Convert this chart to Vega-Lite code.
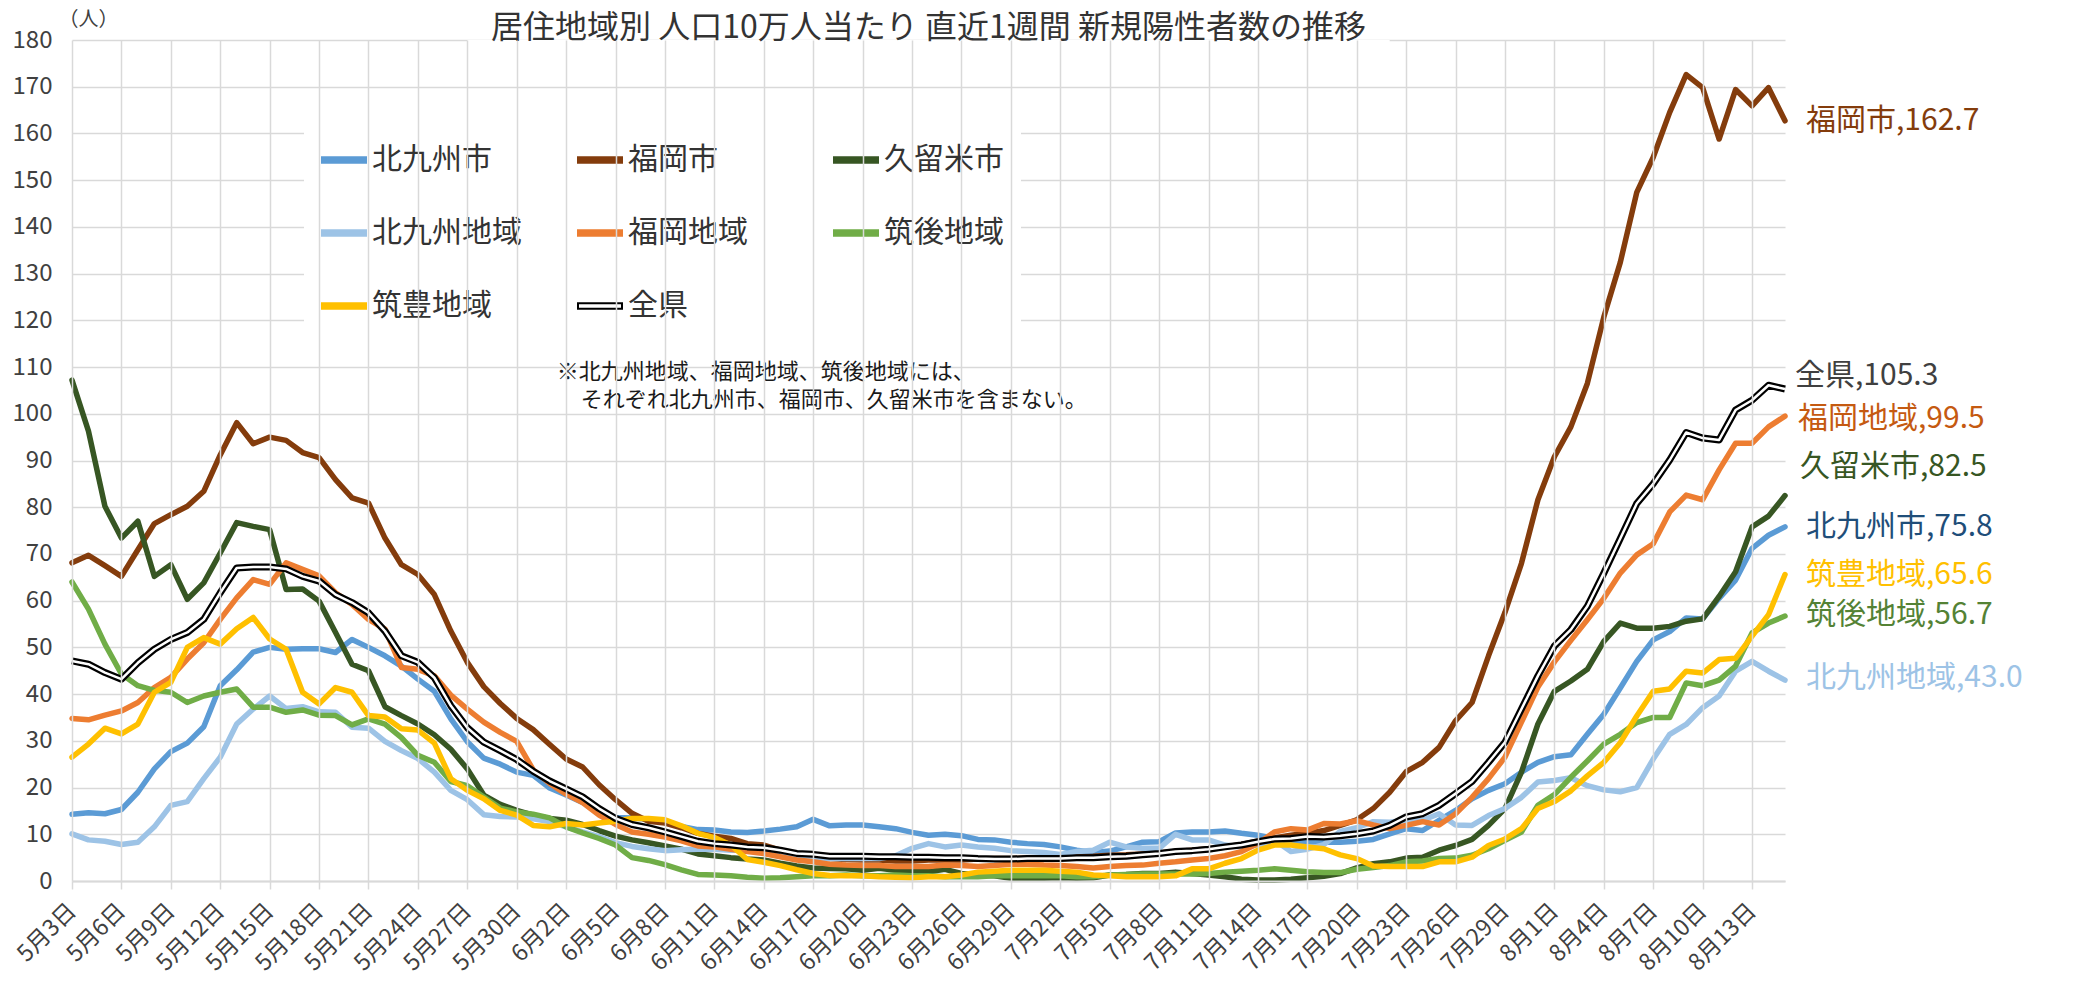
{
"$schema": "https://vega.github.io/schema/vega-lite/v6.json",
"width": 1713,
"height": 841,
"autosize": {"type": "none"},
"padding": {"left": 72, "top": 40, "right": 293, "bottom": 100},
"background": "white",
"config": {
  "font": "Noto Sans CJK JP",
  "view": {"stroke": null},
  "axisY": {"grid": true, "gridColor": "#D9D9D9", "gridWidth": 1.5, "domain": false, "ticks": false, "tickCount": 18, "labelFontSize": 24, "labelColor": "#404040", "labelPadding": 20, "titleAngle": 0, "titleX": 16, "titleY": -21, "titleAlign": "center", "titleBaseline": "middle", "titleFontSize": 20, "titleFontWeight": "normal", "titleColor": "#404040"}
},
"title": {"text": "居住地域別 人口10万人当たり 直近1週間 新規陽性者数の推移", "fontSize": 32, "fontWeight": "normal", "color": "#333333", "anchor": "middle", "offset": -36},
"datasets": {
"main": [
{"日付":"5月3日","北九州市":14.3,"福岡市":68.1,"久留米市":107.2,"北九州地域":10.1,"福岡地域":34.8,"筑後地域":64.0,"筑豊地域":26.5,"全県":47.1},
{"日付":"5月4日","北九州市":14.6,"福岡市":69.7,"久留米市":96.3,"北九州地域":8.8,"福岡地域":34.5,"筑後地域":58.2,"筑豊地域":29.3,"全県":46.4},
{"日付":"5月5日","北九州市":14.4,"福岡市":67.5,"久留米市":80.2,"北九州地域":8.5,"福岡地域":35.5,"筑後地域":50.7,"筑豊地域":32.7,"全県":44.6},
{"日付":"5月6日","北九州市":15.3,"福岡市":65.2,"久留米市":73.4,"北九州地域":7.8,"福岡地域":36.4,"筑後地域":44.3,"筑豊地域":31.5,"全県":43.2},
{"日付":"5月7日","北九州市":19.0,"福岡市":70.9,"久留米市":77.0,"北九州地域":8.3,"福岡地域":38.2,"筑後地域":41.8,"筑豊地域":33.6,"全県":46.7},
{"日付":"5月8日","北九州市":24.0,"福岡市":76.5,"久留米市":65.2,"北九州地域":11.6,"福岡地域":41.4,"筑後地域":40.8,"筑豊地域":40.4,"全県":49.6},
{"日付":"5月9日","北九州市":27.7,"福岡市":78.4,"久留米市":67.7,"北九州地域":16.2,"福岡地域":43.6,"筑後地域":40.4,"筑豊地域":42.5,"全県":51.7},
{"日付":"5月10日","北九州市":29.5,"福岡市":80.2,"久留米市":60.3,"北九州地域":17.0,"福岡地域":47.5,"筑後地域":38.2,"筑豊地域":50.0,"全県":53.2},
{"日付":"5月11日","北九州市":33.0,"福岡市":83.4,"久留米市":63.8,"北九州地域":21.9,"福岡地域":51.0,"筑後地域":39.6,"筑豊地域":52.1,"全県":56.0},
{"日付":"5月12日","北九州市":41.8,"福岡市":91.2,"久留米市":70.2,"北九州地域":26.5,"福岡地域":56.0,"筑後地域":40.4,"筑豊地域":50.7,"全県":61.7},
{"日付":"5月13日","北九州市":45.2,"福岡市":98.1,"久留米市":76.7,"北九州地域":33.6,"福岡地域":60.6,"筑後地域":41.1,"筑豊地域":54.0,"全県":67.0},
{"日付":"5月14日","北九州市":49.0,"福岡市":93.6,"久留米市":75.9,"北九州地域":36.8,"福岡地域":64.5,"筑後地域":37.2,"筑豊地域":56.4,"全県":67.2},
{"日付":"5月15日","北九州市":50.0,"福岡市":95.0,"久留米市":75.2,"北九州地域":39.6,"福岡地域":63.5,"筑後地域":37.2,"筑豊地域":51.8,"全県":67.2},
{"日付":"5月16日","北九州市":49.6,"福岡市":94.3,"久留米市":62.4,"北九州地域":36.9,"福岡地域":68.1,"筑後地域":36.1,"筑豊地域":49.6,"全県":66.8},
{"日付":"5月17日","北九州市":49.7,"福岡市":91.7,"久留米市":62.5,"北九州地域":37.3,"福岡地域":66.7,"筑後地域":36.6,"筑豊地域":40.4,"全県":65.2},
{"日付":"5月18日","北九州市":49.7,"福岡市":90.6,"久留米市":59.9,"北九州地域":36.2,"福岡地域":65.3,"筑後地域":35.5,"筑豊地域":37.9,"全県":64.2},
{"日付":"5月19日","北九州市":48.9,"福岡市":85.9,"久留米市":53.2,"北九州地域":36.1,"福岡地域":61.7,"筑後地域":35.4,"筑豊地域":41.4,"全県":61.3},
{"日付":"5月20日","北九州市":51.7,"福岡市":82.0,"久留米市":46.4,"北九州地域":32.9,"福岡地域":59.2,"筑後地域":33.4,"筑豊地域":40.4,"全県":59.6},
{"日付":"5月21日","北九州市":50.0,"福岡市":80.9,"久留米市":45.0,"北九州地域":32.7,"福岡地域":56.0,"筑後地域":34.7,"筑豊地域":35.4,"全県":57.4},
{"日付":"5月22日","北九州市":48.2,"福岡市":73.4,"久留米市":37.3,"北九州地域":29.9,"福岡地域":53.9,"筑後地域":33.6,"筑豊地域":35.1,"全県":53.5},
{"日付":"5月23日","北九州市":46.0,"福岡市":67.7,"久留米市":35.4,"北九州地域":27.9,"福岡地域":45.7,"筑後地域":30.7,"筑豊地域":32.6,"全県":48.2},
{"日付":"5月24日","北九州市":43.2,"福岡市":65.6,"久留米市":33.6,"北九州地域":26.2,"福岡地域":45.3,"筑後地域":26.9,"筑豊地域":32.3,"全県":46.8},
{"日付":"5月25日","北九州市":40.6,"福岡市":61.3,"久留米市":31.3,"北九州地域":23.3,"福岡地域":43.9,"筑後地域":25.4,"筑豊地域":29.5,"全県":43.5},
{"日付":"5月26日","北九州市":34.7,"福岡市":53.5,"久留米市":28.2,"北九州地域":19.4,"福岡地域":39.8,"筑後地域":21.3,"筑豊地域":21.9,"全県":37.5},
{"日付":"5月27日","北九州市":29.8,"福岡市":46.8,"久留米市":24.0,"北九州地域":17.4,"福岡地域":36.8,"筑後地域":20.4,"筑豊地域":19.4,"全県":32.8},
{"日付":"5月28日","北九州市":26.3,"福岡市":41.6,"久留米市":18.4,"北九州地域":14.2,"福岡地域":34.0,"筑後地域":18.0,"筑豊地域":17.6,"全県":29.7},
{"日付":"5月29日","北九州市":25.0,"福岡市":38.0,"久留米市":16.4,"北九州地域":13.8,"福岡地域":31.8,"筑後地域":15.6,"筑豊地域":15.1,"全県":27.9},
{"日付":"5月30日","北九州市":23.3,"福岡市":34.8,"久留米市":15.1,"北九州地域":13.7,"福岡地域":29.9,"筑後地域":14.8,"筑豊地域":14.1,"全県":26.0},
{"日付":"5月31日","北九州市":22.6,"福岡市":32.4,"久留米市":14.1,"北九州地域":13.3,"福岡地域":23.8,"筑後地域":14.3,"筑豊地域":11.9,"全県":23.5},
{"日付":"6月1日","北九州市":19.9,"福岡市":29.2,"久留米市":13.4,"北九州地域":12.7,"福岡地域":20.9,"筑後地域":13.5,"筑豊地域":11.6,"全県":21.4},
{"日付":"6月2日","北九州市":18.4,"福岡市":26.1,"久留米市":13.0,"北九州地域":11.6,"福岡地域":18.6,"筑後地域":11.6,"筑豊地域":12.3,"全県":19.7},
{"日付":"6月3日","北九州市":16.8,"福岡市":24.4,"久留米市":12.1,"北九州地域":10.5,"福岡地域":16.8,"筑後地域":10.3,"筑豊地域":12.0,"全県":18.0},
{"日付":"6月4日","北九州市":15.2,"福岡市":20.6,"久留米市":10.8,"北九州地域":9.5,"福岡地域":14.1,"筑後地域":9.1,"筑豊地域":12.4,"全県":15.5},
{"日付":"6月5日","北九州市":13.6,"福岡市":17.4,"久留米市":9.6,"北九州地域":8.2,"福岡地域":12.1,"筑後地域":7.7,"筑豊地域":12.8,"全県":13.4},
{"日付":"6月6日","北九州市":13.5,"福岡市":14.5,"久留米市":8.8,"北九州地域":7.4,"福岡地域":10.5,"筑後地域":5.0,"筑豊地域":13.4,"全県":12.1},
{"日付":"6月7日","北九州市":13.2,"福岡市":12.8,"久留米市":8.2,"北九州地域":6.9,"福岡地域":10.0,"筑後地域":4.4,"筑豊地域":13.4,"全県":11.4},
{"日付":"6月8日","北九州市":12.5,"福岡市":12.4,"久留米市":7.5,"北九州地域":6.5,"福岡地域":9.4,"筑後地域":3.5,"筑豊地域":13.1,"全県":10.5},
{"日付":"6月9日","北九州市":11.7,"福岡市":11.4,"久留米市":6.8,"北九州地域":6.7,"福岡地域":8.6,"筑後地域":2.4,"筑豊地域":11.8,"全県":9.5},
{"日付":"6月10日","北九州市":11.0,"福岡市":10.2,"久留米市":5.8,"北九州地域":6.8,"福岡地域":7.5,"筑後地域":1.4,"筑豊地域":10.2,"全県":8.5},
{"日付":"6月11日","北九州市":10.9,"福岡市":9.6,"久留米市":5.4,"北九州地域":6.8,"福岡地域":7.3,"筑後地域":1.3,"筑豊地域":9.3,"全県":8.0},
{"日付":"6月12日","北九州市":10.5,"福岡市":9.1,"久留米市":5.0,"北九州地域":6.6,"福岡地域":6.8,"筑後地域":1.1,"筑豊地域":7.7,"全県":7.7},
{"日付":"6月13日","北九州市":10.4,"福岡市":8.0,"久留米市":4.7,"北九州地域":6.6,"福岡地域":6.3,"筑後地域":0.8,"筑豊地域":4.6,"全県":7.3},
{"日付":"6月14日","北九州市":10.7,"福岡市":7.7,"久留米市":4.5,"北九州地域":6.4,"福岡地域":5.9,"筑後地域":0.6,"筑豊地域":4.0,"全県":7.1},
{"日付":"6月15日","北九州市":11.1,"福岡市":6.6,"久留米市":3.8,"北九州地域":5.9,"福岡地域":5.2,"筑後地域":0.7,"筑豊地域":3.3,"全県":6.6},
{"日付":"6月16日","北九州市":11.6,"福岡市":5.9,"久留米市":3.2,"北九州地域":5.4,"福岡地域":4.5,"筑後地域":0.9,"筑豊地域":2.4,"全県":5.9},
{"日付":"6月17日","北九州市":13.2,"福岡市":5.2,"久留米市":2.8,"北九州地域":5.0,"福岡地域":4.1,"筑後地域":1.1,"筑豊地域":1.6,"全県":5.7},
{"日付":"6月18日","北九州市":11.8,"福岡市":4.8,"久留米市":2.7,"北九州地域":4.8,"福岡地域":3.6,"筑後地域":1.1,"筑豊地域":1.2,"全県":5.3},
{"日付":"6月19日","北九州市":12.0,"福岡市":4.6,"久留米市":2.6,"北九州地域":4.8,"福岡地域":3.4,"筑後地域":1.3,"筑豊地域":1.1,"全県":5.3},
{"日付":"6月20日","北九州市":12.0,"福岡市":4.5,"久留米市":2.3,"北九州地域":4.8,"福岡地域":3.3,"筑後地域":1.1,"筑豊地域":1.1,"全県":5.3},
{"日付":"6月21日","北九州市":11.6,"福岡市":4.5,"久留米市":2.7,"北九州地域":4.8,"福岡地域":3.3,"筑後地域":1.1,"筑豊地域":0.9,"全県":5.2},
{"日付":"6月22日","北九州市":11.2,"福岡市":4.3,"久留米市":2.3,"北九州地域":5.4,"福岡地域":3.1,"筑後地域":1.3,"筑豊地域":0.8,"全県":5.2},
{"日付":"6月23日","北九州市":10.4,"福岡市":4.3,"久留米市":2.1,"北九州地域":7.0,"福岡地域":3.1,"筑後地域":1.1,"筑豊地域":0.7,"全県":5.1},
{"日付":"6月24日","北九州市":9.8,"福岡市":4.5,"久留米市":2.0,"北九州地域":8.0,"福岡地域":3.1,"筑後地域":1.1,"筑豊地域":0.9,"全県":5.1},
{"日付":"6月25日","北九州市":10.0,"福岡市":4.5,"久留米市":2.5,"北九州地域":7.3,"福岡地域":3.4,"筑後地域":0.9,"筑豊地域":0.9,"全県":5.0},
{"日付":"6月26日","北九州市":9.7,"福岡市":4.5,"久留米市":1.6,"北九州地域":7.7,"福岡地域":3.3,"筑後地域":0.9,"筑豊地域":1.3,"全県":5.0},
{"日付":"6月27日","北九州市":8.9,"福岡市":4.7,"久留米市":1.3,"北九州地域":7.3,"福岡地域":3.1,"筑後地域":0.9,"筑豊地域":1.9,"全県":4.8},
{"日付":"6月28日","北九州市":8.8,"福岡市":4.8,"久留米市":1.1,"北九州地域":7.0,"福岡地域":3.3,"筑後地域":1.1,"筑豊地域":2.1,"全県":4.7},
{"日付":"6月29日","北九州市":8.3,"福岡市":4.8,"久留米市":0.6,"北九州地域":6.5,"福岡地域":3.6,"筑後地域":1.1,"筑豊地域":2.3,"全県":4.7},
{"日付":"6月30日","北九州市":8.0,"福岡市":4.9,"久留米市":0.4,"北九州地域":6.3,"福岡地域":3.6,"筑後地域":1.1,"筑豊地域":2.3,"全県":4.8},
{"日付":"7月1日","北九州市":7.8,"福岡市":4.9,"久留米市":0.6,"北九州地域":6.1,"福岡地域":3.4,"筑後地域":1.1,"筑豊地域":2.3,"全県":4.8},
{"日付":"7月2日","北九州市":7.3,"福岡市":5.0,"久留米市":0.7,"北九州地域":5.7,"福岡地域":3.3,"筑後地域":1.1,"筑豊地域":2.1,"全県":4.8},
{"日付":"7月3日","北九州市":6.6,"福岡市":5.2,"久留米市":0.6,"北九州地域":6.3,"福岡地域":3.1,"筑後地域":0.9,"筑豊地域":1.9,"全県":5.0},
{"日付":"7月4日","北九州市":6.1,"福岡市":5.3,"久留米市":0.7,"北九州地域":6.6,"福岡地域":2.8,"筑後地域":0.9,"筑豊地域":1.3,"全県":5.0},
{"日付":"7月5日","北九州市":6.4,"福岡市":5.5,"久留米市":1.3,"北九州地域":8.3,"福岡地域":3.1,"筑後地域":1.3,"筑豊地域":1.1,"全県":5.2},
{"日付":"7月6日","北九州市":7.3,"福岡市":5.6,"久留米市":1.4,"北九州地域":7.3,"福岡地域":3.3,"筑後地域":1.4,"筑豊地域":0.9,"全県":5.3},
{"日付":"7月7日","北九州市":8.3,"福岡市":5.8,"久留米市":1.6,"北九州地域":7.0,"福岡地域":3.4,"筑後地域":1.5,"筑豊地域":0.9,"全県":5.6},
{"日付":"7月8日","北九州市":8.4,"福岡市":6.0,"久留米市":1.6,"北九州地域":7.0,"福岡地域":3.8,"筑後地域":1.5,"筑豊地域":0.9,"全県":5.9},
{"日付":"7月9日","北九州市":10.3,"福岡市":6.3,"久留米市":1.9,"北九州地域":10.0,"福岡地域":4.1,"筑後地域":1.5,"筑豊地域":1.1,"全県":6.3},
{"日付":"7月10日","北九州市":10.5,"福岡市":6.6,"久留米市":1.6,"北九州地域":8.8,"福岡地域":4.5,"筑後地域":1.5,"筑豊地域":2.6,"全県":6.5},
{"日付":"7月11日","北九州市":10.5,"福岡市":6.9,"久留米市":1.3,"北九州地域":8.8,"福岡地域":4.8,"筑後地域":1.6,"筑豊地域":2.6,"全県":6.8},
{"日付":"7月12日","北九州市":10.7,"福岡市":7.3,"久留米市":0.9,"北九州地域":7.7,"福岡地域":5.4,"筑後地域":1.9,"筑豊地域":3.8,"全県":7.3},
{"日付":"7月13日","北九州市":10.2,"福岡市":7.8,"久留米市":0.4,"北九州地域":7.3,"福岡地域":6.3,"筑後地域":2.1,"筑豊地域":4.8,"全県":7.7},
{"日付":"7月14日","北九州市":9.8,"福岡市":8.5,"久留米市":0.2,"北九州地域":7.7,"福岡地域":8.0,"筑後地域":2.3,"筑豊地域":6.6,"全県":8.4},
{"日付":"7月15日","北九州市":9.1,"福岡市":9.2,"久留米市":0.2,"北九州地域":8.8,"福岡地域":10.5,"筑後地域":2.6,"筑豊地域":7.7,"全県":9.0},
{"日付":"7月16日","北九州市":8.4,"福岡市":9.8,"久留米市":0.4,"北九州地域":6.3,"福岡地域":11.2,"筑後地域":2.3,"筑豊地域":7.7,"全県":9.1},
{"日付":"7月17日","北九州市":8.4,"福岡市":10.2,"久留米市":0.7,"北九州地域":6.8,"福岡地域":10.9,"筑後地域":2.0,"筑豊地域":7.3,"全県":9.5},
{"日付":"7月18日","北九州市":8.3,"福岡市":10.8,"久留米市":1.0,"北九州地域":7.8,"福岡地域":12.3,"筑後地域":1.8,"筑豊地域":6.9,"全県":9.4},
{"日付":"7月19日","北九州市":8.3,"福岡市":11.9,"久留米市":1.6,"北九州地域":10.6,"福岡地域":12.2,"筑後地域":1.8,"筑豊地域":5.6,"全県":9.7},
{"日付":"7月20日","北九州市":8.5,"福岡市":13.1,"久留米市":2.8,"北九州地域":11.4,"福岡地域":12.9,"筑後地域":2.5,"筑豊地域":4.8,"全県":10.1},
{"日付":"7月21日","北九州市":8.9,"福岡市":15.5,"久留米市":3.7,"北九州地域":12.7,"福岡地域":12.0,"筑後地域":2.9,"筑豊地域":3.2,"全県":10.7},
{"日付":"7月22日","北九州市":10.1,"福岡市":19.0,"久留米市":4.1,"北九州地域":12.6,"福岡地域":11.2,"筑後地域":3.3,"筑豊地域":3.1,"全県":11.9},
{"日付":"7月23日","北九州市":11.2,"福岡市":23.4,"久留米市":4.9,"北九州地域":13.0,"福岡地域":11.9,"筑後地域":4.1,"筑豊地域":3.1,"全県":13.7},
{"日付":"7月24日","北九州市":10.8,"福岡市":25.4,"久留米市":5.1,"北九州地域":13.0,"福岡地域":12.7,"筑後地域":4.3,"筑豊地域":3.1,"全県":14.4},
{"日付":"7月25日","北九州市":13.0,"福岡市":28.6,"久留米市":6.6,"北九州地域":14.4,"福岡地域":12.0,"筑後地域":4.8,"筑豊地域":4.1,"全県":16.2},
{"日付":"7月26日","北九州市":15.1,"福岡市":34.3,"久留米市":7.6,"北九州地域":12.0,"福岡地域":14.4,"筑後地域":4.9,"筑豊地域":4.1,"全県":18.7},
{"日付":"7月27日","北九州市":17.6,"福岡市":38.2,"久留米市":8.9,"北九州地域":11.9,"福岡地域":17.9,"筑後地域":5.5,"筑豊地域":5.1,"全県":21.3},
{"日付":"7月28日","北九州市":19.4,"福岡市":48.2,"久留米市":11.9,"北九州地域":14.0,"福岡地域":21.9,"筑後地域":6.9,"筑豊地域":7.6,"全県":25.4},
{"日付":"7月29日","北九州市":20.8,"福岡市":57.5,"久留米市":15.5,"北九州地域":15.5,"福岡地域":26.5,"筑後地域":8.7,"筑豊地域":9.0,"全県":29.7},
{"日付":"7月30日","北九州市":23.3,"福岡市":68.0,"久留米市":23.3,"北九州地域":17.9,"福岡地域":34.0,"筑後地域":10.5,"筑豊地域":11.2,"全県":36.8},
{"日付":"7月31日","北九州市":25.4,"福岡市":81.6,"久留米市":33.6,"北九州地域":21.2,"福岡地域":41.5,"筑後地域":16.2,"筑豊地域":15.5,"全県":43.9},
{"日付":"8月1日","北九州市":26.6,"福岡市":90.8,"久留米市":40.6,"北九州地域":21.5,"福岡地域":46.9,"筑後地域":18.5,"筑豊地域":17.0,"全県":50.3},
{"日付":"8月2日","北九州市":27.0,"福岡市":97.2,"久留米市":42.8,"北九州地域":22.1,"福岡地域":51.5,"筑後地域":22.2,"筑豊地域":19.3,"全県":53.8},
{"日付":"8月3日","北九州市":31.4,"福岡市":106.5,"久留米市":45.3,"北九州地域":20.4,"福岡地域":55.9,"筑後地域":25.7,"筑豊地域":22.5,"全県":58.8},
{"日付":"8月4日","北九州市":35.7,"福岡市":120.7,"久留米市":51.3,"北九州地域":19.5,"福岡地域":60.5,"筑後地域":29.3,"筑豊地域":25.4,"全県":65.9},
{"日付":"8月5日","北九州市":41.3,"福岡市":132.4,"久留米市":55.2,"北九州地域":19.1,"福岡地域":65.9,"筑後地域":31.4,"筑豊地域":29.6,"全県":73.3},
{"日付":"8月6日","北九州市":47.0,"福岡市":147.4,"久留米市":54.1,"北九州地域":20.0,"福岡地域":69.8,"筑後地域":33.9,"筑豊地域":35.3,"全県":80.8},
{"日付":"8月7日","北九州市":51.6,"福岡市":154.9,"久留米市":54.1,"北九州地域":26.1,"福岡地域":72.2,"筑後地域":35.0,"筑豊地域":40.6,"全県":85.0},
{"日付":"8月8日","北九州市":53.4,"福岡市":164.5,"久留米市":54.5,"北九州地域":31.4,"福岡地域":79.0,"筑後地域":35.0,"筑豊地域":41.1,"全県":90.1},
{"日付":"8月9日","北九州市":56.3,"福岡市":172.6,"久留米市":55.6,"北九州地域":33.5,"福岡地域":82.6,"筑後地域":42.4,"筑豊地域":44.9,"全県":96.0},
{"日付":"8月10日","北九州市":56.1,"福岡市":169.8,"久留米市":56.1,"北九州地域":37.1,"福岡地域":81.6,"筑後地域":41.8,"筑豊地域":44.5,"全県":94.8},
{"日付":"8月11日","北九州市":60.5,"福岡市":158.8,"久留米市":60.9,"北九州地域":39.6,"福岡地域":88.0,"筑後地域":43.0,"筑豊地域":47.4,"全県":94.4},
{"日付":"8月12日","北九州市":64.4,"福岡市":169.4,"久留米市":66.2,"北九州地域":44.9,"福岡地域":93.7,"筑後地域":46.0,"筑豊地域":47.7,"全県":100.8},
{"日付":"8月13日","北九州市":71.2,"福岡市":165.9,"久留米市":75.8,"北九州地域":47.0,"福岡地域":93.7,"筑後地域":53.1,"筑豊地域":52.4,"全県":102.9},
{"日付":"8月14日","北九州市":74.0,"福岡市":169.8,"久留米市":78.1,"北九州地域":44.9,"福岡地域":97.2,"筑後地域":55.2,"筑豊地域":57.0,"全県":106.1},
{"日付":"8月15日","北九州市":75.8,"福岡市":162.7,"久留米市":82.5,"北九州地域":43.0,"福岡地域":99.5,"筑後地域":56.7,"筑豊地域":65.6,"全県":105.3}
],
"labels": [
{"系列":"北九州市","ラベル":"北九州市,75.8","値":75.8},
{"系列":"福岡市","ラベル":"福岡市,162.7","値":162.7},
{"系列":"久留米市","ラベル":"久留米市,82.5","値":82.5},
{"系列":"北九州地域","ラベル":"北九州地域,43.0","値":43.0},
{"系列":"福岡地域","ラベル":"福岡地域,99.5","値":99.5},
{"系列":"筑後地域","ラベル":"筑後地域,56.7","値":56.7},
{"系列":"筑豊地域","ラベル":"筑豊地域,65.6","値":65.6},
{"系列":"全県","ラベル":"全県,105.3","値":105.3}
],
"notes": [
{"行": "1", "注記": "※北九州地域、福岡地域、筑後地域には、"},
{"行": "2", "注記": "それぞれ北九州市、福岡市、久留米市を含まない。"}
]
},
"encoding": {
  "x": {"field": "日付", "type": "ordinal", "sort": null,
    "scale": {"type": "point", "padding": 0, "domain": ["5月3日","5月4日","5月5日","5月6日","5月7日","5月8日","5月9日","5月10日","5月11日","5月12日","5月13日","5月14日","5月15日","5月16日","5月17日","5月18日","5月19日","5月20日","5月21日","5月22日","5月23日","5月24日","5月25日","5月26日","5月27日","5月28日","5月29日","5月30日","5月31日","6月1日","6月2日","6月3日","6月4日","6月5日","6月6日","6月7日","6月8日","6月9日","6月10日","6月11日","6月12日","6月13日","6月14日","6月15日","6月16日","6月17日","6月18日","6月19日","6月20日","6月21日","6月22日","6月23日","6月24日","6月25日","6月26日","6月27日","6月28日","6月29日","6月30日","7月1日","7月2日","7月3日","7月4日","7月5日","7月6日","7月7日","7月8日","7月9日","7月10日","7月11日","7月12日","7月13日","7月14日","7月15日","7月16日","7月17日","7月18日","7月19日","7月20日","7月21日","7月22日","7月23日","7月24日","7月25日","7月26日","7月27日","7月28日","7月29日","7月30日","7月31日","8月1日","8月2日","8月3日","8月4日","8月5日","8月6日","8月7日","8月8日","8月9日","8月10日","8月11日","8月12日","8月13日","8月14日","8月15日"]},
    "axis": {"title": null, "values": ["5月3日","5月6日","5月9日","5月12日","5月15日","5月18日","5月21日","5月24日","5月27日","5月30日","6月2日","6月5日","6月8日","6月11日","6月14日","6月17日","6月20日","6月23日","6月26日","6月29日","7月2日","7月5日","7月8日","7月11日","7月14日","7月17日","7月20日","7月23日","7月26日","7月29日","8月1日","8月4日","8月7日","8月10日","8月13日"],
      "labelAngle": -45, "labelAlign": "right", "labelBaseline": "middle", "labelFontSize": 23, "labelColor": "#404040", "labelPadding": 18, "labelOverlap": false,
      "grid": true, "gridColor": "#D9D9D9", "gridWidth": 1.5, "domainColor": "#D9D9D9", "domainWidth": 2, "tickColor": "#D9D9D9", "tickSize": 8, "tickWidth": 1.5}
  }
},
"layer": [
  {
    "data": {"values": [{"枠": "タイトル"}]},
    "mark": {"type": "rect", "color": "#FFFFFF"},
    "encoding": {"x": {"datum": "5月27日"}, "x2": {"datum": "7月22日"}, "y": {"datum": 180, "type": "quantitative", "title": "（人）"}, "y2": {"datum": 175}}
  },
  {
    "data": {"name": "main"},
    "transform": [{"fold": ["北九州市","福岡市","久留米市","北九州地域","福岡地域","筑後地域","筑豊地域"], "as": ["系列","値"]}],
    "mark": {"type": "line", "strokeWidth": 5.5, "strokeJoin": "round", "strokeCap": "round"},
    "encoding": {
      "y": {"field": "値", "type": "quantitative", "title": "（人）", "scale": {"domain": [0, 180], "nice": false}},
      "color": {"field": "系列", "type": "nominal",
        "scale": {"domain": ["北九州市","福岡市","久留米市","北九州地域","福岡地域","筑後地域","筑豊地域","全県"], "range": ["#5B9BD5","#843C0C","#375623","#9DC3E6","#ED7D31","#70AD47","#FFC000","#000000"]},
        "legend": {"orient": "none", "legendX": 232, "legendY": 80, "direction": "horizontal", "columns": 3, "title": null, "fillColor": "white", "padding": 17, "gridAlign": "all", "columnPadding": 52, "rowPadding": 35,
          "labelFontSize": 30, "labelColor": "#333333", "labelOffset": 5, "labelLimit": 400,
          "symbolSize": 1936, "symbolType": "M-1,-0.12H1V0.12H-1Z", "symbolStrokeWidth": 2,
          "encode": {"symbols": {"update": {
            "fill": {"signal": "datum.value === '全県' ? 'white' : scale('color', datum.value)"},
            "stroke": {"signal": "datum.value === '全県' ? 'black' : scale('color', datum.value)"},
            "strokeWidth": {"value": 2}}}}}
      }
    }
  },
  {
    "data": {"name": "main"},
    "mark": {"type": "line", "strokeWidth": 7, "color": "#000000", "strokeJoin": "round"},
    "encoding": {"y": {"field": "全県", "type": "quantitative", "title": "（人）", "scale": {"domain": [0, 180], "nice": false}}}
  },
  {
    "data": {"name": "main"},
    "mark": {"type": "line", "strokeWidth": 2.5, "color": "#FFFFFF", "strokeJoin": "round"},
    "encoding": {"y": {"field": "全県", "type": "quantitative", "title": "（人）", "scale": {"domain": [0, 180], "nice": false}}}
  },
  {
    "data": {"name": "labels"},
    "transform": [{"filter": "datum['系列'] === '福岡市'"}],
    "mark": {"type": "text", "align": "left", "baseline": "middle", "fontSize": 30, "color": "#843C0C", "dx": 21},
    "encoding": {"x": {"datum": "8月15日"}, "y": {"field": "値", "type": "quantitative", "title": "（人）"}, "text": {"field": "ラベル"}}
  },
  {
    "data": {"name": "labels"},
    "transform": [{"filter": "datum['系列'] === '全県'"}],
    "mark": {"type": "text", "align": "left", "baseline": "middle", "fontSize": 30, "color": "#404040", "dx": 10, "dy": -13},
    "encoding": {"x": {"datum": "8月15日"}, "y": {"field": "値", "type": "quantitative", "title": "（人）"}, "text": {"field": "ラベル"}}
  },
  {
    "data": {"name": "labels"},
    "transform": [{"filter": "datum['系列'] === '福岡地域'"}],
    "mark": {"type": "text", "align": "left", "baseline": "middle", "fontSize": 30, "color": "#C55A11", "dx": 13, "dy": 3},
    "encoding": {"x": {"datum": "8月15日"}, "y": {"field": "値", "type": "quantitative", "title": "（人）"}, "text": {"field": "ラベル"}}
  },
  {
    "data": {"name": "labels"},
    "transform": [{"filter": "datum['系列'] === '久留米市'"}],
    "mark": {"type": "text", "align": "left", "baseline": "middle", "fontSize": 30, "color": "#375623", "dx": 15, "dy": -29},
    "encoding": {"x": {"datum": "8月15日"}, "y": {"field": "値", "type": "quantitative", "title": "（人）"}, "text": {"field": "ラベル"}}
  },
  {
    "data": {"name": "labels"},
    "transform": [{"filter": "datum['系列'] === '北九州市'"}],
    "mark": {"type": "text", "align": "left", "baseline": "middle", "fontSize": 30, "color": "#1F4E79", "dx": 21},
    "encoding": {"x": {"datum": "8月15日"}, "y": {"field": "値", "type": "quantitative", "title": "（人）"}, "text": {"field": "ラベル"}}
  },
  {
    "data": {"name": "labels"},
    "transform": [{"filter": "datum['系列'] === '筑豊地域'"}],
    "mark": {"type": "text", "align": "left", "baseline": "middle", "fontSize": 30, "color": "#FFC000", "dx": 21},
    "encoding": {"x": {"datum": "8月15日"}, "y": {"field": "値", "type": "quantitative", "title": "（人）"}, "text": {"field": "ラベル"}}
  },
  {
    "data": {"name": "labels"},
    "transform": [{"filter": "datum['系列'] === '筑後地域'"}],
    "mark": {"type": "text", "align": "left", "baseline": "middle", "fontSize": 30, "color": "#548235", "dx": 21, "dy": -1},
    "encoding": {"x": {"datum": "8月15日"}, "y": {"field": "値", "type": "quantitative", "title": "（人）"}, "text": {"field": "ラベル"}}
  },
  {
    "data": {"name": "labels"},
    "transform": [{"filter": "datum['系列'] === '北九州地域'"}],
    "mark": {"type": "text", "align": "left", "baseline": "middle", "fontSize": 30, "color": "#9DC3E6", "dx": 21, "dy": -2},
    "encoding": {"x": {"datum": "8月15日"}, "y": {"field": "値", "type": "quantitative", "title": "（人）"}, "text": {"field": "ラベル"}}
  },
  {
    "data": {"name": "notes"},
    "transform": [{"filter": "datum['行'] === '1'"}],
    "mark": {"type": "text", "align": "left", "baseline": "middle", "fontSize": 22, "color": "#1A1A1A", "dx": 7},
    "encoding": {"x": {"datum": "6月1日"}, "y": {"datum": 109.0}, "text": {"field": "注記"}}
  },
  {
    "data": {"name": "notes"},
    "transform": [{"filter": "datum['行'] === '2'"}],
    "mark": {"type": "text", "align": "left", "baseline": "middle", "fontSize": 22, "color": "#1A1A1A", "dx": 31},
    "encoding": {"x": {"datum": "6月1日"}, "y": {"datum": 103.0}, "text": {"field": "注記"}}
  }
]
}
